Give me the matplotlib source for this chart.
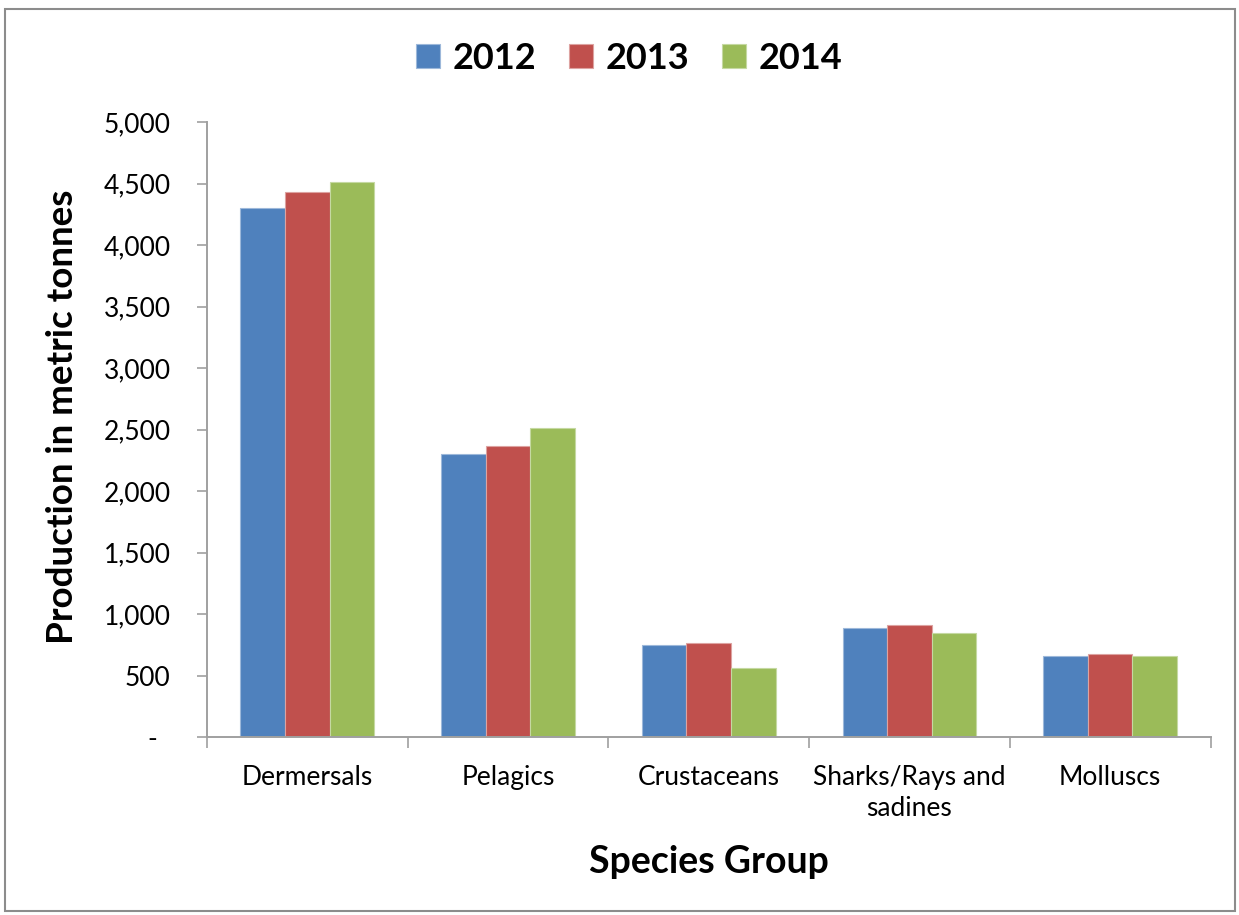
import numpy as np
import matplotlib.pyplot as plt
from matplotlib.patches import Rectangle
from matplotlib.ticker import FuncFormatter, FixedLocator

plt.rcParams['font.family'] = ['Lato', 'DejaVu Sans']

groups = ['Dermersals', 'Pelagics', 'Crustaceans', 'Sharks/Rays and\nsadines', 'Molluscs']
years = ['2012', '2013', '2014']
prod_2012 = [4300, 2300, 750, 890, 655]
prod_2013 = [4430, 2370, 765, 910, 675]
prod_2014 = [4510, 2510, 565, 850, 655]

colors = ['#4F81BD', '#C0504D', '#9BBB59']
edges = ['#9DB8DA', '#DDA3A1', '#C5D9A2']

fig = plt.figure(figsize=(12.39, 9.15), dpi=100)
ax = fig.add_axes([0.167, 0.1945, 0.810, 0.672])

x = np.arange(len(groups))
w = 0.222
for i, (vals, c, ec) in enumerate(zip([prod_2012, prod_2013, prod_2014], colors, edges)):
    ax.bar(x + (i - 1) * w, vals, width=w, color=c, edgecolor=ec, linewidth=0.8,
           label=years[i], zorder=2)

ax.set_xlim(-0.5, len(groups) - 0.5)
ax.set_ylim(0, 5000)
ax.set_yticks(np.arange(0, 5001, 500))
ax.yaxis.set_major_formatter(FuncFormatter(lambda v, p: '-  ' if v == 0 else f'{int(v):,}'))

ax.set_xticks(x)
ax.set_xticklabels(groups, fontsize=19, linespacing=1.3)
ax.xaxis.set_minor_locator(FixedLocator(np.arange(-0.5, len(groups), 1.0)))
ax.tick_params(axis='x', which='major', length=0, pad=20)
ax.tick_params(axis='x', which='minor', length=8, width=1.2, color='#A0A0A0')
ax.tick_params(axis='y', length=7, width=1.2, color='#A0A0A0', labelsize=19, pad=19)

for side in ['top', 'right']:
    ax.spines[side].set_visible(False)
for side in ['left', 'bottom']:
    ax.spines[side].set_color('#A0A0A0')
    ax.spines[side].set_linewidth(1.4)

ax.set_ylabel('Production in metric tonnes', fontsize=26.5, fontweight='bold')
ax.yaxis.set_label_coords(-0.127, 0.52)
ax.set_xlabel('Species Group', fontsize=27, fontweight='bold')
ax.xaxis.set_label_coords(0.5, -0.176)

handles, labels = ax.get_legend_handles_labels()
fig.legend(handles, labels, loc='center', bbox_to_anchor=(0.508, 0.936), ncol=3, frameon=False,
           prop={'size': 26, 'weight': 'bold'}, handlelength=0.67, handleheight=0.64,
           handletextpad=0.35, columnspacing=0.9)

# gray frame round the whole chart
fig.patches.append(Rectangle((0.004, 0.004), 0.993, 0.986, transform=fig.transFigure,
                             fill=False, edgecolor='#8C8C8C', linewidth=1.5))

fig.savefig('out.png', dpi=100)
